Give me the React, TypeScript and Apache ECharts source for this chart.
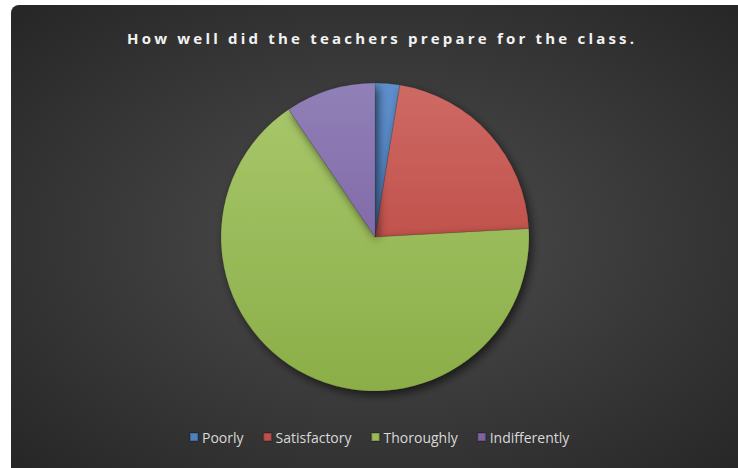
import React, { useEffect, useRef } from "react";
import * as echarts from "echarts";

const titleText = "How well did the teachers prepare for the class.";
const categories = ["Poorly", "Satisfactory", "Thoroughly", "Indifferently"];
const values = [3, 25, 77, 11];
const baseColors = ["#4F81BD", "#C0504D", "#9BBB59", "#8064A2"];
const topColors = ["#5E8FCC", "#CE6A64", "#A9C86C", "#9180B8"];
const bottomColors = ["#3E70B0", "#B43A35", "#8BAE48", "#73559A"];

export default function App() {
  const ref = useRef<HTMLDivElement>(null);
  useEffect(() => {
    if (!ref.current) return;
    const chart = echarts.init(ref.current, null, { renderer: "svg" });
    const cx = 375;
    const cy = 237;
    const r = 154;
    const data = categories.map((name, i) => ({
      name,
      value: values[i],
      itemStyle: {
        color: new echarts.graphic.LinearGradient(
          0, cy - r, 0, cy + r,
          [
            { offset: 0, color: topColors[i] },
            { offset: 1, color: bottomColors[i] },
          ],
          true
        ),
      },
    }));
    chart.setOption({
      animation: false,
      graphic: [
        {
          type: "rect",
          z: -10,
          silent: true,
          shape: { x: 11, y: 5, width: 740, height: 470, r: [8, 8, 0, 0] },
          style: {
            fill: new echarts.graphic.RadialGradient(0.5, 0.5, 0.72, [
              { offset: 0, color: "#4e4e4e" },
              { offset: 1, color: "#252525" },
            ]),
          },
        },
      ],
      title: {
        text: titleText,
        left: 127,
        top: 30,
        padding: 0,
        textStyle: {
          color: "#f2f2f2",
          fontFamily: "Open Sans",
          fontWeight: "bold",
          fontSize: 15,
        },
      },
      legend: {
        left: 189,
        top: 430,
        padding: 0,
        icon: "rect",
        itemWidth: 8,
        itemHeight: 8,
        itemGap: 19,
        data: categories.map((name, i) => ({
          name,
          itemStyle: { color: baseColors[i] },
        })),
        textStyle: {
          color: "#d9d9d9",
          fontFamily: "Open Sans",
          fontSize: 14,
          padding: [0, 0, 0, -1],
        },
      },
      series: [
        {
          type: "pie",
          center: [cx, cy],
          radius: r,
          startAngle: 90,
          clockwise: true,
          label: { show: false },
          labelLine: { show: false },
          emphasis: { disabled: true },
          itemStyle: {
            borderColor: "rgba(0,0,0,0.18)",
            borderWidth: 0.6,
            shadowBlur: 10,
            shadowOffsetX: 3,
            shadowOffsetY: 4,
            shadowColor: "rgba(0,0,0,0.6)",
          },
          data,
        },
      ],
    });
    const applySpacing = () => {
      if (!ref.current) return;
      ref.current.querySelectorAll("text").forEach((t) => {
        if (t.textContent === titleText) {
          t.setAttribute("letter-spacing", "3.2px");
        }
      });
    };
    applySpacing();
    chart.on("finished", applySpacing);
    return () => chart.dispose();
  }, []);
  return (
    <div
      ref={ref}
      style={{ position: "absolute", left: 0, top: 0, width: 738, height: 468 }}
    />
  );
}
